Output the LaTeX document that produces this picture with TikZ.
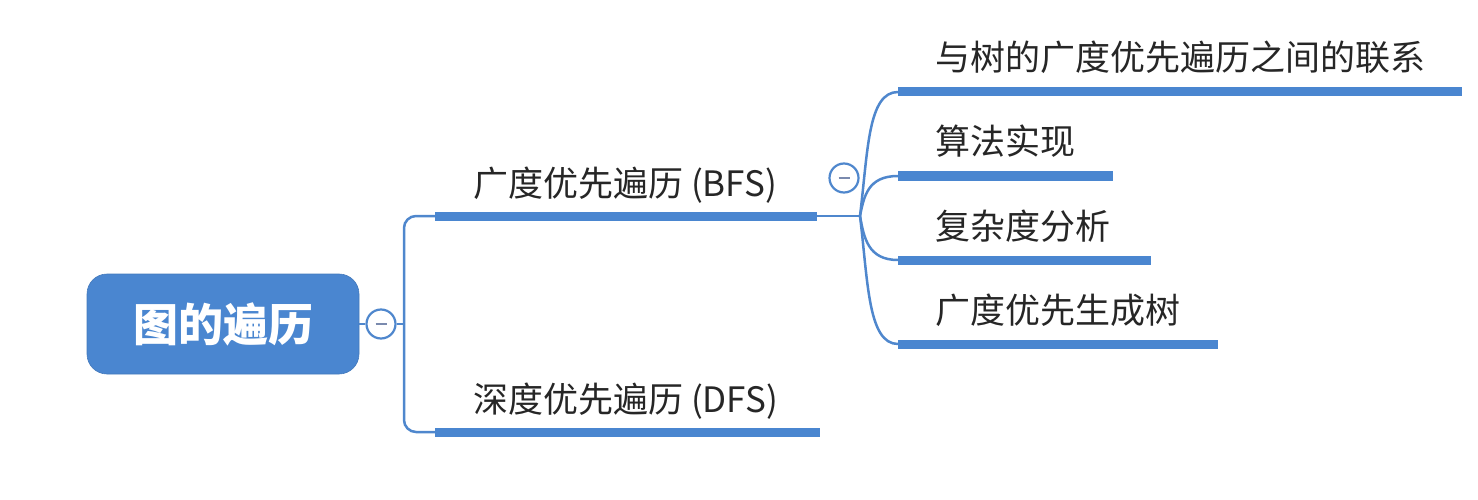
\documentclass[tikz,border=0pt]{standalone}
\usepackage{fontspec}
\setmainfont{Noto Sans CJK SC}
\definecolor{mmblue}{HTML}{4A86D0}
\definecolor{mmline}{HTML}{4F87CD}
\definecolor{minusgray}{HTML}{7A8AAE}
\tikzset{
  bar/.style={fill=mmblue, draw=none, inner sep=0pt, minimum height=9pt, anchor=west, rectangle},
  lbl/.style={anchor=base west, inner sep=0pt, font=\fontsize{35}{41}\selectfont, text=black!85},
  conn/.style={draw=mmline, line width=2.5pt},
  fold/.style={circle, draw=mmline, line width=2.2pt, fill=white, minimum size=29pt, inner sep=0pt,
    path picture={\draw[minusgray, line width=2pt] ([xshift=-5.5pt]path picture bounding box.center) -- ([xshift=5.5pt]path picture bounding box.center);}},
  rootbox/.style={rectangle, rounded corners=20pt, fill=mmblue, draw=mmblue!90!black, line width=0.6pt,
    minimum width=272pt, minimum height=100pt, inner sep=0pt, text=white, font=\fontsize{45}{50}\selectfont\bfseries}
}
\begin{document}
\begin{tikzpicture}[x=1pt, y=-1pt]
\useasboundingbox (0,0) rectangle (1478,500);
% root
\node[rootbox] (root) at (223,324) {图的遍历};
\node[fold] (f1) at (381,324) {};
% level 1 bars
\node[bar, minimum width=382pt] (bfsbar) at (435,216) {};
\node[bar, minimum width=385pt] (dfsbar) at (435,432) {};
\node[lbl] (bfs) at (473,196) {广度优先遍历 (BFS)};
\node[lbl] (dfs) at (473,412) {深度优先遍历 (DFS)};
% trunk
\coordinate (t) at (404,324);
\draw[conn] (root) -- (f1);
\draw[conn] (f1) -- (t);
\draw[conn, rounded corners=12pt] (bfsbar.west) -| (t) |- (dfsbar.west);
% junction
\coordinate (j) at (860,216);
\draw[conn] (bfsbar.east) -- (j);
\node[fold] (f2) at (844,178) {};
% level 2 bars
\node[bar, minimum width=564pt] (b1) at (898,92) {};
\node[bar, minimum width=215pt] (b2) at (898,176) {};
\node[bar, minimum width=253pt] (b3) at (898,260) {};
\node[bar, minimum width=320pt] (b4) at (898,344) {};
\node[lbl] (l1) at (935,71) {与树的广度优先遍历之间的联系};
\node[lbl] (l2) at (935,155) {算法实现};
\node[lbl] (l3) at (935,239) {复杂度分析};
\node[lbl] (l4) at (935,323) {广度优先生成树};
\draw[conn] (j) .. controls (868,150) and (868,92) .. (b1.west);
\draw[conn] (j) .. controls (864,196) and (868,176) .. (b2.west);
\draw[conn] (j) .. controls (864,238) and (868,260) .. (b3.west);
\draw[conn] (j) .. controls (868,282) and (868,344) .. (b4.west);
\end{tikzpicture}
\end{document}
